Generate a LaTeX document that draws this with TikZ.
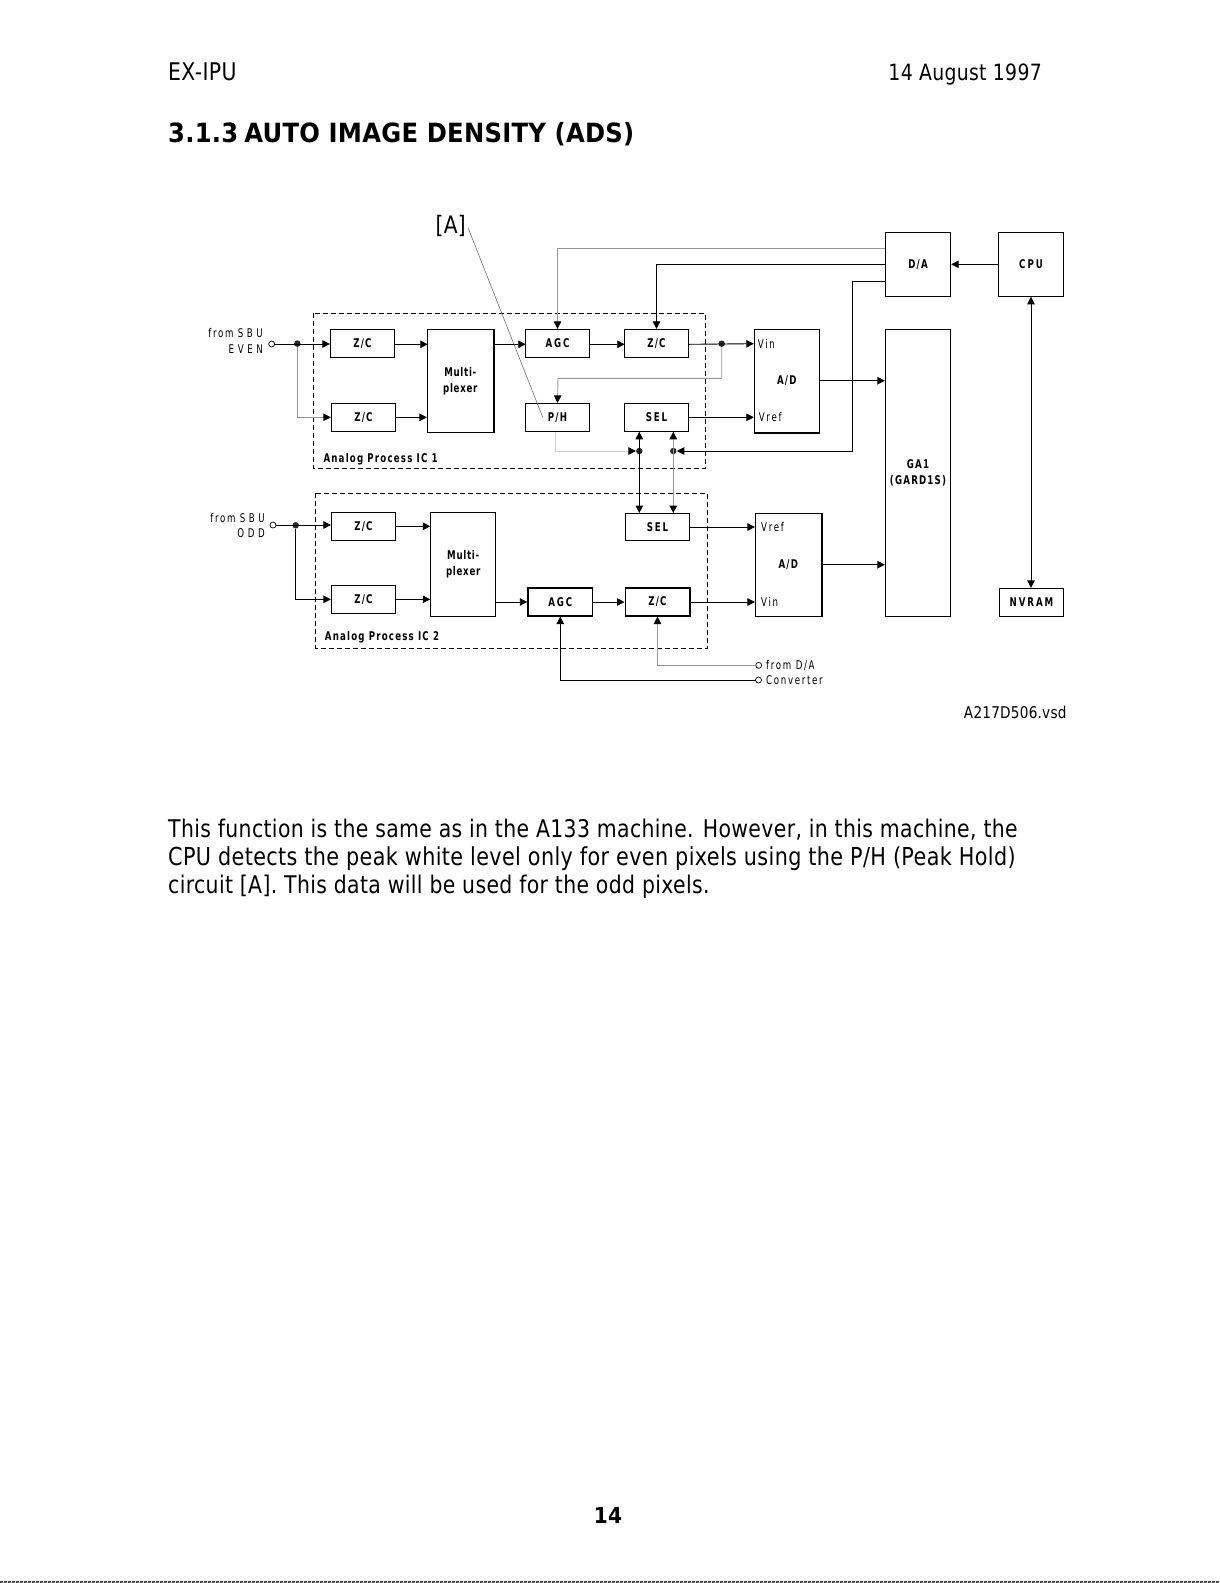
\documentclass[tikz,border=0pt]{standalone}
\usepackage{fontspec}
\usepackage{tikz}
\usetikzlibrary{arrows.meta,positioning}
\setmainfont[FakeStretch=0.84,LetterSpace=1.5]{DejaVu Sans}
\newfontfamily\lblbold[FakeStretch=0.72,LetterSpace=10]{DejaVu Sans Bold}
\newfontfamily\capbold[FakeStretch=0.72,LetterSpace=16]{DejaVu Sans Bold}
\newfontfamily\muxbold[FakeStretch=0.72,LetterSpace=6]{DejaVu Sans Bold}
\newfontfamily\lblthin[FakeStretch=0.72,LetterSpace=14]{DejaVu Sans}
\newfontfamily\capthin[FakeStretch=0.72,LetterSpace=30]{DejaVu Sans}
\newfontfamily\headbold[FakeStretch=0.915,LetterSpace=1]{DejaVu Sans Bold}
\definecolor{wireG}{RGB}{150,150,150}
\definecolor{wireL}{RGB}{205,205,205}
\definecolor{leadG}{RGB}{110,110,110}
\tikzset{
  blockbox/.style={draw, line width=0.9pt, fill=white, inner sep=0pt, align=center,
    minimum width=64.4pt, minimum height=28pt, font=\fontsize{12}{15.8}\selectfont\lblbold},
  capsbox/.style={blockbox, font=\fontsize{12}{15.8}\selectfont\capbold},
  muxbox/.style={blockbox, font=\fontsize{12}{15.8}\selectfont\muxbold},
  heavybox/.style={line width=1.6pt},
  wire/.style={->, line width=0.9pt},
  wiregray/.style={->, line width=0.9pt, wireG},
  junction/.style={circle, fill=black!85, inner sep=0pt, minimum size=6.5pt},
  terminal/.style={circle, draw, line width=0.7pt, fill=white, inner sep=0pt, minimum size=6pt},
  icbox/.style={line width=0.8pt, dash pattern=on 5pt off 3pt},
  boldlbl/.style={font=\fontsize{12}{15}\selectfont\lblbold, inner sep=0pt},
  thinlbl/.style={font=\fontsize{12}{15}\selectfont\lblthin, inner sep=0pt},
  bodytxt/.style={anchor=base west, inner sep=0pt, font=\fontsize{24.3}{28}\selectfont},
}
\begin{document}
\begin{tikzpicture}[x=1pt, y=-1pt, >={Triangle[length=7.5pt,width=7.5pt,color=black]}]
  \useasboundingbox (0,0) rectangle (1220,1583);
  % page header
  \node[bodytxt] (hdrL) at (168,80) {EX-IPU};
  \node[bodytxt, anchor=base east, font=\fontsize{22.4}{28}\selectfont] (hdrR) at (1042,80) {14 August 1997};
  \node[anchor=base west, inner sep=0pt, font=\fontsize{26.5}{30}\selectfont\headbold] (title) at (168,142)
    {3.1.3\hspace{6pt}AUTO IMAGE DENSITY (ADS)};
  % IC outlines
  \draw[icbox] (313.3,313.3) rectangle (705.7,468.3);
  \draw[icbox] (315.7,493.3) rectangle (707.3,648.5);
  \node[boldlbl, anchor=west] (icEven) at (323.3,459) {Analog Process IC 1};
  \node[boldlbl, anchor=west] (icOdd) at (324.7,637) {Analog Process IC 2};
  % even channel
  \node[blockbox] (zcEvenA) at (362.5,343.3) {Z/C};
  \node[blockbox] (zcEvenB) at (363.5,417.3) {Z/C};
  \node[muxbox, minimum width=66pt, minimum height=103pt] (muxEven) at (460.3,380.8) {Multi-\\plexer};
  \node[capsbox] (agcEven) at (557.5,343.3) {AGC};
  \node[blockbox] (zcEvenC) at (656.5,343.3) {Z/C};
  \node[blockbox] (phEven) at (557.5,417.3) {P/H};
  \node[capsbox] (selEven) at (656.5,417.3) {SEL};
  \node[blockbox, minimum width=65pt, minimum height=103pt] (adEven) at (786.8,380.7) {A/D};
  % odd channel
  \node[blockbox] (zcOddA) at (363.5,526.3) {Z/C};
  \node[blockbox] (zcOddB) at (363.5,599.3) {Z/C};
  \node[muxbox, minimum width=65pt, minimum height=103.7pt] (muxOdd) at (463.2,564.2) {Multi-\\plexer};
  \node[capsbox, heavybox, minimum height=27.5pt] (agcOdd) at (560.3,602) {AGC};
  \node[blockbox, heavybox, minimum height=27.5pt] (zcOddC) at (657.5,602) {Z/C};
  \node[capsbox, minimum height=27pt] (selOdd) at (657.5,527) {SEL};
  \node[blockbox, minimum width=66pt, minimum height=102.7pt] (adOdd) at (788.3,564.7) {A/D};
  % right column
  \node[blockbox, minimum width=65.4pt, minimum height=64pt] (daConv) at (918,264.3) {D/A};
  \node[capsbox, minimum width=65.4pt, minimum height=64pt] (cpuBox) at (1031,264.3) {CPU};
  \node[blockbox, minimum width=65.4pt, minimum height=286.7pt] (gaBox) at (918,472.7) {GA1\\(GARD1S)};
  \node[capsbox, minimum height=28pt] (nvBox) at (1031.5,602.3) {NVRAM};
  % heavier edges
  \draw[line width=1.7pt] (muxEven.north east) -- (muxEven.south east);
  \draw[line width=1.7pt] (adEven.south west) -- (adEven.south east);
  \draw[line width=1.7pt] (adOdd.north east) -- (adOdd.south east) -- (adOdd.south west);
  \draw[line width=1.7pt] (gaBox.south west) -- (gaBox.south east);
  \draw[line width=1.7pt] (muxOdd.south west) -- (muxOdd.south east);
  % inputs
  \node[terminal] (inEven) at (271.7,344) {};
  \node[junction] (dotEven) at (297.3,343.6) {};
  \node[thinlbl, anchor=east] (srcEvenA) at (263,333.5) {from {\capthin SBU}};
  \node[thinlbl, anchor=east] (srcEvenB) at (263,349.5) {\capthin EVEN};
  \node[terminal] (inOdd) at (273,525) {};
  \node[junction] (dotOdd) at (295.7,525.3) {};
  \node[thinlbl, anchor=east] (srcOddA) at (265,517.7) {from {\capthin SBU}};
  \node[thinlbl, anchor=east] (srcOddB) at (265,533) {\capthin ODD};
  \draw[wire] (inEven) -- (inEven -| zcEvenA.west);
  \draw[wiregray] (dotEven) |- (zcEvenB.west);
  \draw[wire] (inOdd) -- (inOdd -| zcOddA.west);
  \draw[wire] (dotOdd) |- (zcOddB.west);
  % even signal path
  \draw[wire] (zcEvenA.east) ++(0,1) -- ++(32.6,0);
  \draw[wire] (zcEvenB.east) -- (zcEvenB.east -| muxEven.west);
  \draw[wire] (muxEven.east |- agcEven.west) ++(0,1) -- ++(32,0);
  \draw[wire] (agcEven.east) ++(0,1) -- ++(34.6,0);
  \node[junction] (dotOut) at (721.7,343.7) {};
  \draw[wire] (zcEvenC.east) ++(0,1) -- (adEven.west |- dotOut);
  \draw[wire] (selEven.east) -- (selEven.east -| adEven.west);
  \draw[wire] (adEven.east) -- (adEven.east -| gaBox.west);
  \draw[wiregray] (dotOut) |- (558,378.3) -- (phEven.north);
  % odd signal path
  \draw[wire] (zcOddA.east) -- (zcOddA.east -| muxOdd.west);
  \draw[wire] (zcOddB.east) -- (zcOddB.east -| muxOdd.west);
  \draw[wire] (muxOdd.east |- agcOdd.west) -- (agcOdd.west);
  \draw[wire] (agcOdd.east) -- (zcOddC.west);
  \draw[wire] (zcOddC.east) -- (zcOddC.east -| adOdd.west);
  \draw[wire] (selOdd.east) -- (selOdd.east -| adOdd.west);
  \draw[wire] (adOdd.east) -- (adOdd.east -| gaBox.west);
  % selector links
  \node[junction] (dotSelA) at (639.3,451) {};
  \node[junction] (dotSelB) at (673.3,451) {};
  \draw[wire, <->] (dotSelA |- selEven.south) -- (dotSelA |- selOdd.north);
  \draw[wiregray, <->] (dotSelB |- selEven.south) -- (dotSelB |- selOdd.north);
  \draw[wiregray, wireL] (phEven.south) ++(-1.8,0) |- (dotSelA.west);
  \draw[wire] (daConv.west |- 0,281.3) -- (852.7,281.3) |- (dotSelB.east);
  % D/A feeds
  \draw[wiregray] (daConv.west |- 0,248.3) -| (agcEven.north);
  \draw[wire] (daConv.west) -| (zcEvenC.north);
  \draw[wire] (cpuBox.west) -- (daConv.east);
  \draw[wire, <->] (cpuBox.south) -- (cpuBox.south |- nvBox.north);
  % feeds from the converter
  \node[terminal] (fromDaA) at (758.7,665.3) {};
  \node[terminal] (fromDaB) at (758.5,680) {};
  \draw[wiregray] (fromDaA) -| (zcOddC.south);
  \draw[wire] (fromDaB) -| (agcOdd.south);
  \node[thinlbl, anchor=west] (fromDaTxtA) at (766,665) {from D/A};
  \node[thinlbl, anchor=west] (fromDaTxtB) at (766,680) {Converter};
  % A/D pin labels
  \node[thinlbl, anchor=west] (pinVinA) at (757.7,344) {Vin};
  \node[thinlbl, anchor=west] (pinVrefA) at (758.7,417) {Vref};
  \node[thinlbl, anchor=west] (pinVrefB) at (761,527) {Vref};
  \node[thinlbl, anchor=west] (pinVinB) at (761,602) {Vin};
  % callout
  \node[inner sep=0pt, font=\fontsize{24}{28}\selectfont] (callA) at (450.7,226) {[A]};
  \coordinate (leadTop) at (468.3,228.3);
  \coordinate (leadEnd) at (542.7,417.3);
  \draw[leadG, line width=0.6pt] (leadTop) -- (leadEnd);
  \node[inner sep=0pt, anchor=east, font=\fontsize{16.2}{20}\selectfont] (fileTag) at (1066.7,712.3) {A217D506.vsd};
  % text below the figure
  \node[bodytxt] (bodyA) at (168,837) {This function is the same as in the A133 machine. However, in this machine, the};
  \node[bodytxt, font=\fontsize{24.7}{28}\selectfont] (bodyB) at (168,865) {CPU detects the peak white level only for even pixels using the P/H (Peak Hold)};
  \node[bodytxt] (bodyC) at (168,893) {circuit [A]. This data will be used for the odd pixels.};
  \node[font=\fontsize{22}{26}\selectfont\headbold, inner sep=0pt] (pageNo) at (608,1515) {14};
  \draw[black!70, line width=1.5pt, dash pattern=on 3pt off 1pt] (0,1582) -- (1220,1582);
\end{tikzpicture}
\end{document}
